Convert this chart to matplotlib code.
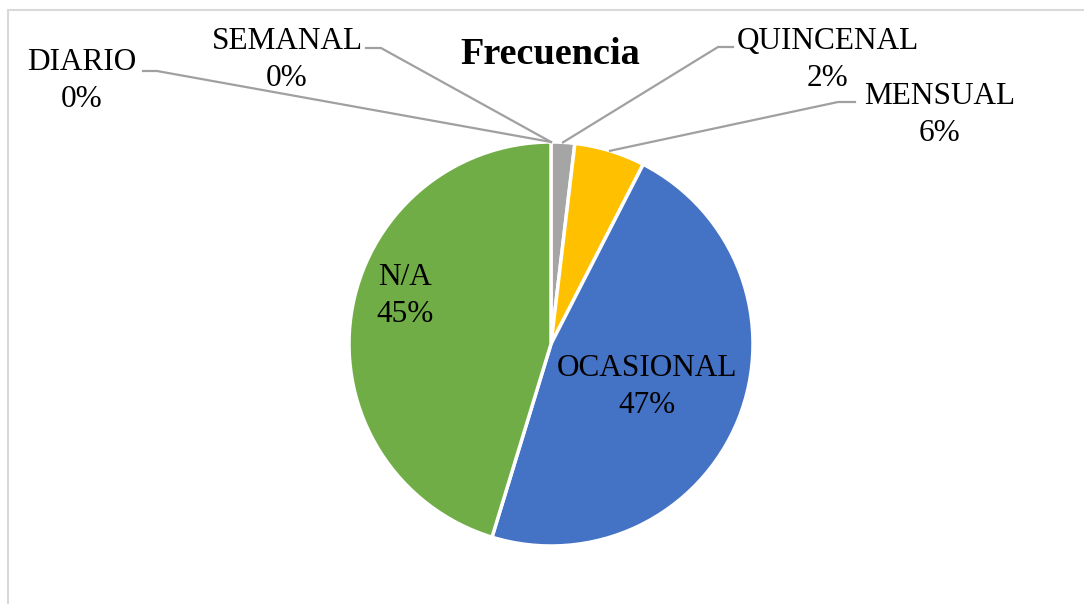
import numpy as np
import matplotlib
matplotlib.use("Agg")
import matplotlib.pyplot as plt
from matplotlib.patches import Rectangle

plt.rcParams['font.family'] = ['Liberation Serif', 'DejaVu Serif']

# datos (conteos)
categorias = ['DIARIO', 'SEMANAL', 'QUINCENAL', 'MENSUAL', 'OCASIONAL', 'N/A']
conteos = [0, 0, 1, 3, 25, 24]
colores = ['#5B9BD5', '#ED7D31', '#A5A5A5', '#FFC000', '#4472C4', '#70AD47']
titulo = 'Frecuencia'

W, H = 1084, 604
fig = plt.figure(figsize=(W / 100, H / 100), dpi=100)
ax = fig.add_axes([0, 0, 1, 1])
ax.set_xlim(0, W)
ax.set_ylim(0, H)
ax.set_aspect('equal')
ax.axis('off')


def py(y):
    return H - y


# marco gris del área del gráfico
ax.add_patch(Rectangle((8, py(10) - 700), 1200, 700, fill=False,
                       edgecolor='#D9D9D9', linewidth=1.5, clip_on=True))

cx, cy, r = 551, py(344), 202
ax.pie(conteos, colors=colores, startangle=90, counterclock=False,
       center=(cx, cy), radius=r,
       wedgeprops=dict(edgecolor='white', linewidth=2.5))
ax.set_xlim(0, W)
ax.set_ylim(0, H)

total = sum(conteos)
pct = [round(v / total * 100) for v in conteos]
cum = np.cumsum([0] + conteos[:-1])
ang_mid = [np.deg2rad(90 - 360 * (c + v / 2) / total) for c, v in zip(cum, conteos)]

fs = 22.5
ls = 1.38
# etiquetas externas con líneas guía: (centro del texto, inicio de la guía, codo)
externas = {
    'DIARIO': ((82, 81), (143, 71), (157, 71)),
    'SEMANAL': ((287, 60), (366, 48), (381, 48)),
    'QUINCENAL': ((828, 60), (733, 47), (718, 47)),
    'MENSUAL': ((940, 115), (855, 102), (838, 102)),
}
for i, cat in enumerate(categorias):
    txt = f'{cat}\n{pct[i]}%'
    if cat in externas:
        (tx, ty), (x0, y0), (x1, y1) = externas[cat]
        ax.text(tx, py(ty), txt, ha='center', va='center', fontsize=fs,
                linespacing=ls)
        tipx = cx + r * np.cos(ang_mid[i])
        tipy = cy + r * np.sin(ang_mid[i])
        ax.plot([x0, x1, tipx], [py(y0), py(y1), tipy], color='#A0A0A0',
                linewidth=1.6, solid_joinstyle='miter')
    elif cat == 'N/A':
        ax.text(405, py(296), txt, ha='center', va='center', fontsize=fs,
                linespacing=ls)
    else:
        ax.text(647, py(387), txt, ha='center', va='center', fontsize=fs,
                linespacing=ls)

ax.text(550, py(55), titulo, ha='center', va='center', fontsize=27.5,
        fontweight='bold')

fig.savefig('out.png', dpi=100, facecolor='white')
